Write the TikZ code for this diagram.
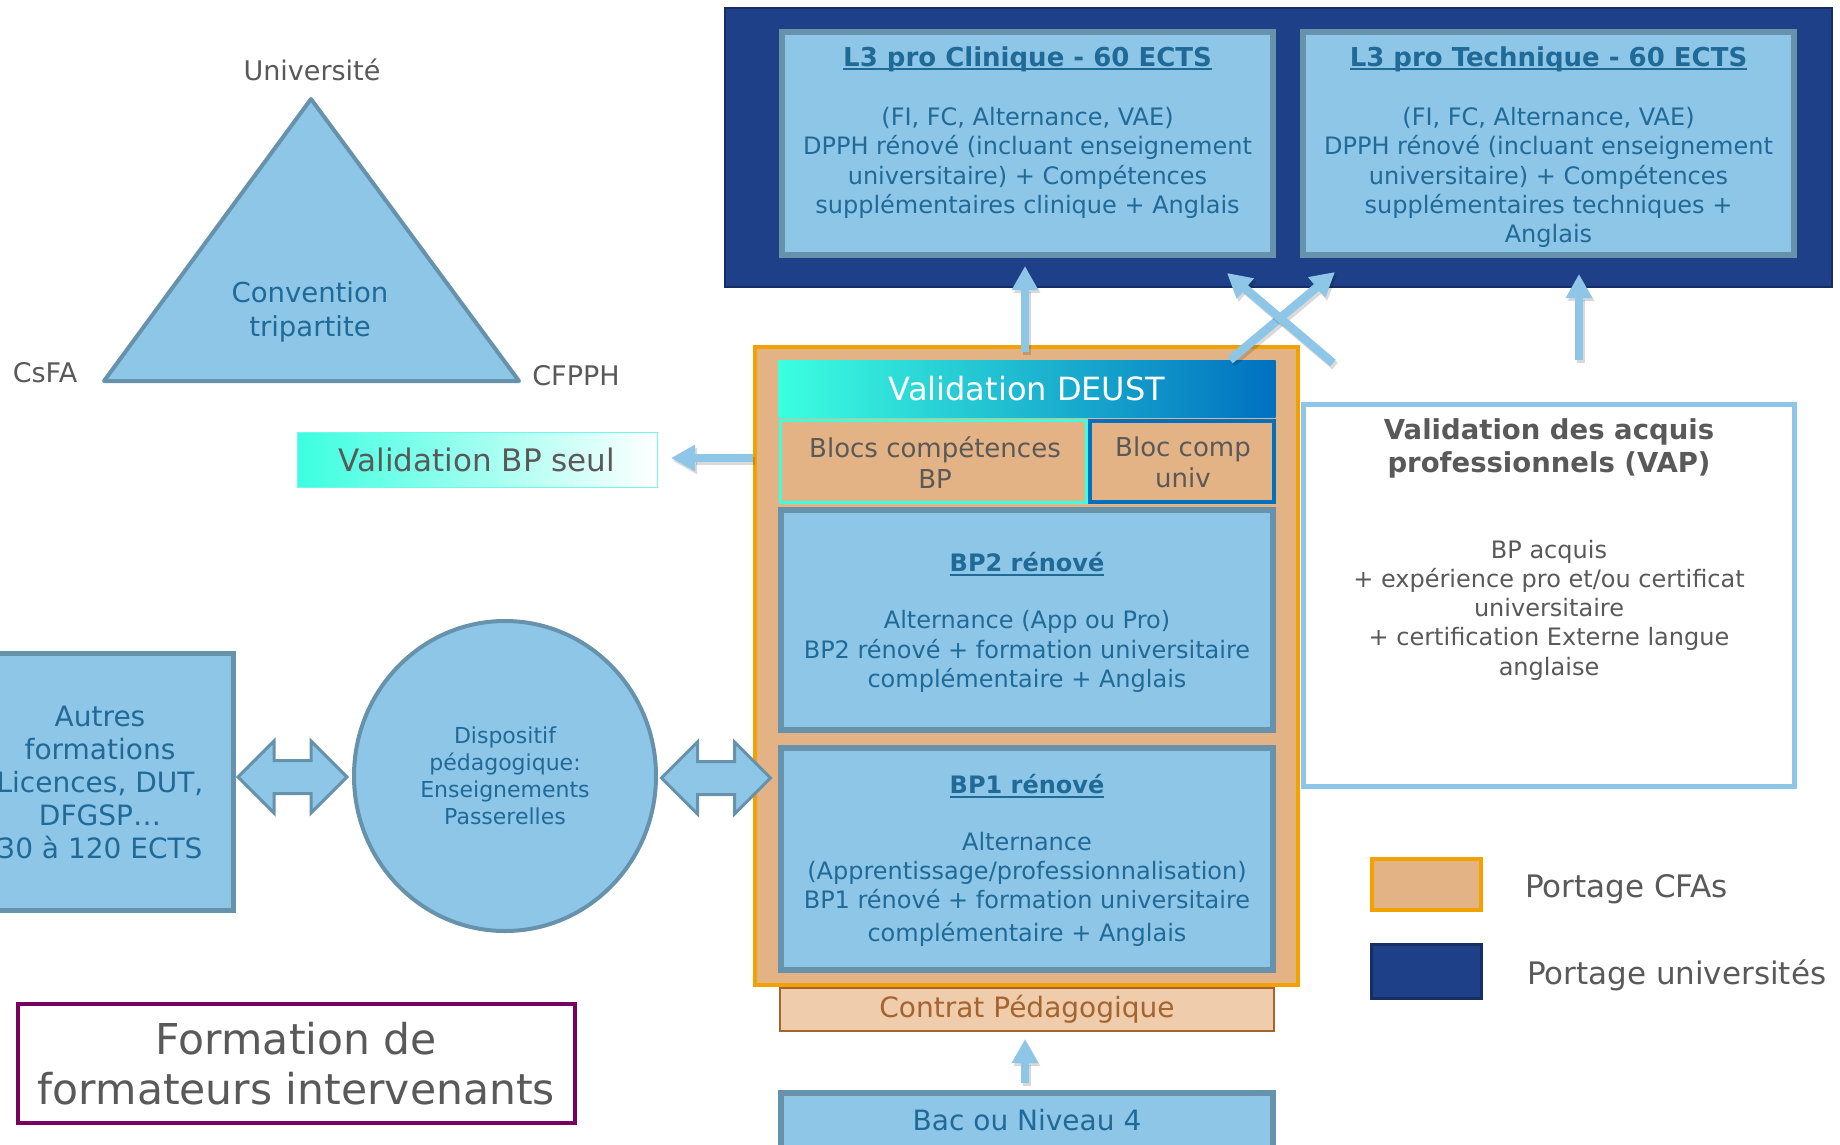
\documentclass[tikz,border=0pt]{standalone}
\usepackage{fontspec}
\setmainfont{DejaVu Sans}
\usetikzlibrary{arrows.meta,shapes.geometric,calc}
\definecolor{lb}{RGB}{142,198,232}
\definecolor{lbd}{RGB}{102,146,172}
\definecolor{db}{RGB}{30,64,136}
\definecolor{dbd}{RGB}{22,46,100}
\definecolor{orf}{RGB}{228,179,133}
\definecolor{ord}{RGB}{242,162,0}
\definecolor{tq}{RGB}{60,255,224}
\definecolor{tql}{RGB}{110,250,230}
\definecolor{mb}{RGB}{0,112,192}
\definecolor{tx}{RGB}{32,106,152}
\definecolor{gy}{RGB}{89,89,89}
\definecolor{pu}{RGB}{122,0,96}
\definecolor{cpf}{RGB}{238,204,172}
\definecolor{cpd}{RGB}{165,100,45}
\newcommand\fz[2]{\fontsize{#1}{#2}\selectfont}
\newcommand\myul[1]{\setbox0=\hbox{#1}\leavevmode\rlap{\rule[-4pt]{\wd0}{1.7pt}}\box0}
\newcommand\bluearrow[2]{%
  \draw[arrsh] ([shift={(2,3)}]#1) -- ([shift={(2,3)}]#2);
  \draw[arr] (#1) -- (#2);}
\begin{document}
\begin{tikzpicture}[x=1pt,y=-1pt,
  every node/.style={inner sep=0pt, outer sep=0pt},
  box/.style={draw=lbd, fill=lb, line width=6pt},
  txt/.style={text=tx, align=center, font=\fz{24}{29.3}},
  gtxt/.style={text=gy, align=center},
  arr/.style={draw=lb, line width=8.5pt, -{Triangle[width=25pt,length=24pt]}},
  arrsh/.style={draw=black, opacity=0.15, line width=8.5pt, -{Triangle[width=25pt,length=24pt]}},
  dbla/.pic={\draw[fill=lb, draw=lbd, line width=3pt, line join=miter]
     (-54.5,0) -- (-18.5,-36) -- (-18.5,-16.5) -- (18.5,-16.5) -- (18.5,-36) -- (54.5,0)
     -- (18.5,36) -- (18.5,16.5) -- (-18.5,16.5) -- (-18.5,36) -- cycle;}
]
\clip (0,0) rectangle (1840,1144);
\fill[white] (0,0) rectangle (1840,1144);

% ---------- triangle
\coordinate (tA) at (311,99);
\coordinate (tB) at (104,381);
\coordinate (tC) at (519,381);
\draw[fill=lb, draw=lbd, line width=4pt, line join=round] (tA) -- (tB) -- (tC) -- cycle;
\node[gtxt, font=\fz{27}{33}] (univlbl) at (312,70) {Université};
\node[gtxt, font=\fz{27}{33}] (csfa) at (45,373) {CsFA};
\node[gtxt, font=\fz{27}{33}] (cfpph) at (576,376) {CFPPH};
\node[txt, font=\fz{27.5}{33.5}] (conv) at (310,312) {Convention\\tripartite};

% ---------- university block
\node[draw=dbd, fill=db, line width=2pt, minimum width=1107, minimum height=279] (ublock) at (1278.5,147.5) {};
\node[box, minimum width=491, minimum height=223] (l3c) at (1027.5,143.5) {};
\node[box, minimum width=491, minimum height=223] (l3t) at (1548.5,143.5) {};
\node[txt, font=\bfseries\fz{26}{31}] (l3ct) at (1027.5,59) {\myul{L3 pro Clinique - 60 ECTS}};
\node[txt, font=\bfseries\fz{26}{31}] (l3tt) at (1548.5,59) {\myul{L3 pro Technique - 60 ECTS}};
\node[txt] (l3cb) at (1027.5,163) {(FI, FC, Alternance, VAE)\\DPPH rénové (incluant enseignement\\universitaire) + Compétences\\supplémentaires clinique + Anglais};
\node[txt] (l3tb) at (1548.5,177.5) {(FI, FC, Alternance, VAE)\\DPPH rénové (incluant enseignement\\universitaire) + Compétences\\supplémentaires techniques +\\Anglais};

% ---------- CFA block
\node[draw=ord, fill=orf, line width=4pt, minimum width=543, minimum height=638] (orange) at (1026.5,666) {};
\node[shading=axis, left color=tq, right color=mb, minimum width=497, minimum height=57,
      text=white, font=\fz{32}{38}] (deust) at (1027,388.5) {Validation DEUST};
\node[draw=tq, fill=orf, line width=3pt, minimum width=306, minimum height=82] (blocbp) at (933.5,461.5) {};
\node[draw=mb, fill=orf, line width=4pt, minimum width=184, minimum height=81] (blocuniv) at (1182,461.5) {};
\node[gtxt, font=\fz{26}{31.5}] (blocbpt) at (935,462.5) {Blocs compétences\\BP};
\node[gtxt, font=\fz{26}{31.5}] (blocunivt) at (1183,462.5) {Bloc comp\\univ};

\node[box, minimum width=492, minimum height=220] (bp2) at (1027,620) {};
\node[txt, font=\bfseries\fz{24}{29}] (bp2t) at (1027,564) {\myul{BP2 rénové}};
\node[txt] (bp2b) at (1027,651.5) {Alternance (App ou Pro)\\BP2 rénové + formation universitaire\\complémentaire + Anglais};

\node[box, minimum width=492, minimum height=222] (bp1) at (1027,859) {};
\node[txt, font=\bfseries\fz{24}{29}] (bp1t) at (1027,786) {\myul{BP1 rénové}};
\node[txt] (bp1b) at (1027,889) {Alternance\\(Apprentissage/professionnalisation)\\BP1 rénové + formation universitaire\\[3pt]complémentaire + Anglais};

\node[draw=cpd, fill=cpf, line width=2.5pt, minimum width=494, minimum height=43,
      text=cpd, font=\fz{28}{33}] (contrat) at (1027,1009.5) {Contrat Pédagogique};
\node[box, minimum width=492, minimum height=70] (bac) at (1027,1128) {};
\node[txt, font=\fz{28}{33}] (bact) at (1027,1120) {Bac ou Niveau 4};

% ---------- validation BP seul
\node[draw=tql, line width=1.5pt, shading=axis, left color=tq, right color=white,
      minimum width=360, minimum height=55] (bpseul) at (477.5,460) {};
\node[gtxt, font=\fz{31}{37}] (bpseult) at (477,460) {Validation BP seul};

% ---------- VAP
\node[draw=lb, fill=white, line width=5pt, minimum width=491, minimum height=382] (vap) at (1549,595.5) {};
\node[gtxt, font=\bfseries\fz{27.5}{33}] (vapt) at (1549,448) {Validation des acquis\\professionnels (VAP)};
\node[gtxt, font=\fz{24}{29.3}] (vapb) at (1549,610) {BP acquis\\+ expérience pro et/ou certificat\\universitaire\\+ certification Externe langue\\anglaise};

% ---------- left side
\node[box, line width=5pt, minimum width=273.5, minimum height=257] (autres) at (96.75,782) {};
\node[txt, font=\fz{28}{33}] (autrest) at (100,782) {Autres\\formations\\Licences, DUT,\\DFGSP…\\30 à 120 ECTS};
\node[ellipse, draw=lbd, fill=lb, line width=4pt, minimum width=302, minimum height=310,
      text=tx, align=center, font=\fz{22}{27}] (disp) at (505,776) {Dispositif\\pédagogique:\\Enseignements\\Passerelles};
\pic (dbl1) at (292.5,777) {dbla};
\pic (dbl2) at (716,778) {dbla};

% ---------- arrows
\coordinate (a1s) at (1025,352); \coordinate (a1e) at (1025,266);
\coordinate (a2s) at (1230,360); \coordinate (a2e) at (1335,272);
\coordinate (a3s) at (1333,363); \coordinate (a3e) at (1227,273);
\coordinate (a4s) at (1579,360); \coordinate (a4e) at (1579,274);
\coordinate (a5s) at (753,458);  \coordinate (a5e) at (671,458);
\coordinate (a6s) at (1025,1083); \coordinate (a6e) at (1025,1039);
\bluearrow{a1s}{a1e}
\bluearrow{a2s}{a2e}
\bluearrow{a3s}{a3e}
\bluearrow{a4s}{a4e}
\bluearrow{a5s}{a5e}
\bluearrow{a6s}{a6e}

% ---------- formation de formateurs
\node[draw=pu, line width=4pt, minimum width=557, minimum height=119,
      text=gy, align=center, font=\fz{42.5}{50}] (form) at (296.5,1063.5) {Formation de\\formateurs intervenants};

% ---------- legend
\node[draw=ord, fill=orf, line width=4pt, minimum width=109, minimum height=51] (legcfa) at (1426.5,884.5) {};
\node[draw=dbd, fill=db, line width=3pt, minimum width=110, minimum height=54] (leguniv) at (1426.5,971.5) {};
\node[gtxt, font=\fz{31}{37}, anchor=base west] (legcfat) at (1525,897) {Portage CFAs};
\node[gtxt, font=\fz{31}{37}, anchor=base west] (legunivt) at (1527,984) {Portage universités};
\end{tikzpicture}
\end{document}
